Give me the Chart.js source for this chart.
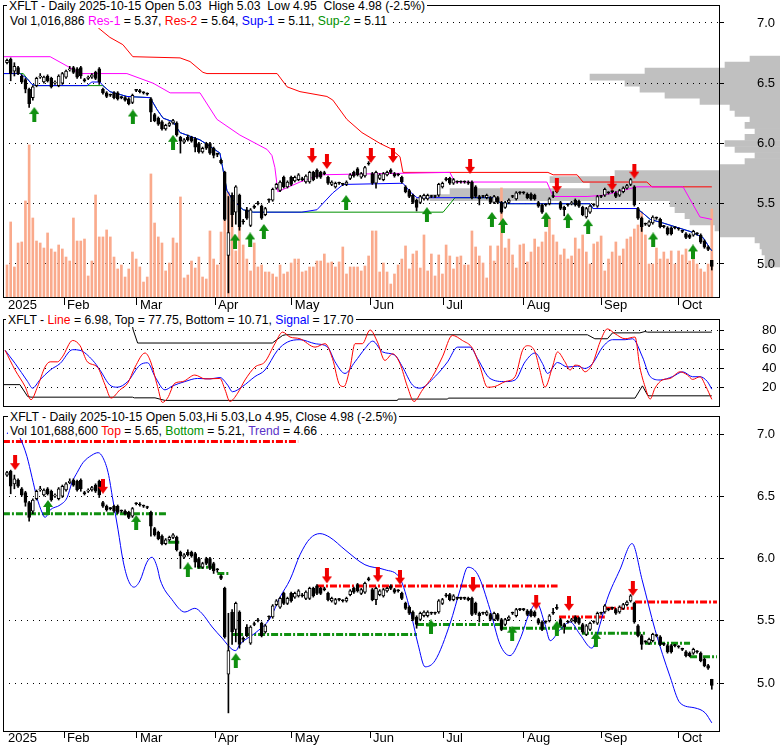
<!DOCTYPE html>
<html><head><meta charset="utf-8">
<script src="https://cdn.jsdelivr.net/npm/chart.js@4/dist/chart.umd.min.js"></script>
<style>
html,body{margin:0;padding:0;background:#fff;}
body{width:780px;height:745px;overflow:hidden;position:relative;font-family:"Liberation Sans",Arial,sans-serif;}
canvas{position:absolute;left:0;}
.hdr{position:absolute;font-size:12.2px;line-height:14px;white-space:pre;background:#fff;padding:0 2px;color:#000;z-index:5;}
</style></head><body>
<canvas id="prof" width="780" height="313" style="top:0;z-index:0"></canvas>
<canvas id="c1" width="780" height="313" style="top:0;z-index:1"></canvas>
<canvas id="c2" width="780" height="100" style="top:313px;z-index:1"></canvas>
<canvas id="c3" width="780" height="335" style="top:410px;z-index:1"></canvas>
<div class="hdr" style="left:7px;top:-1px">XFLT - Daily 2025-10-15 Open 5.03  High 5.03  Low 4.95  Close 4.98 (-2.5%)</div>
<div class="hdr" style="left:8px;top:14px">Vol 1,016,886 <span style="color:#ff00ff">Res-1</span> = 5.37, <span style="color:#ff0000">Res-2</span> = 5.64, <span style="color:#0000ff">Sup-1</span> = 5.11, <span style="color:#009000">Sup-2</span> = 5.11</div>
<div class="hdr" style="left:6px;top:313px">XFLT - <span style="color:#ff0000">Line</span> = 6.98, Top = 77.75, Bottom = 10.71, <span style="color:#0000ff">Signal</span> = 17.70</div>
<div class="hdr" style="left:8px;top:410px">XFLT - Daily 2025-10-15 Open 5.03,Hi 5.03,Lo 4.95, Close 4.98 (-2.5%)</div>
<div class="hdr" style="left:8px;top:424px">Vol 101,688,600 <span style="color:#ff0000">Top</span> = 5.65, <span style="color:#009000">Bottom</span> = 5.21, <span style="color:#5a32c8">Trend</span> = 4.66</div>
<script>
// ---------- DATA ----------
const monthLabels = ['2025','Feb','Mar','Apr','May','Jun','Jul','Aug','Sep','Oct'];
const monthStartIdx = [-0.54, 15.45, 35.2, 56.4, 77.2, 98.4, 118.2, 140.1, 161, 182.1];
const priceTicks = [5.0, 5.5, 6.0, 6.5, 7.0];
const oscTicks = [20, 40, 60, 80];

const open = [
6.67,6.70,6.60,6.63,6.56,6.53,6.45,6.38,6.48,6.55,
6.51,6.56,6.54,6.50,6.48,6.50,6.55,6.61,6.63,6.62,
6.63,6.53,6.54,6.55,6.59,6.62,6.45,6.42,6.40,6.42,
6.42,6.38,6.38,6.37,6.34,6.44,6.43,6.42,6.41,6.37,
6.24,6.21,6.18,6.12,6.15,6.17,6.17,6.05,6.01,6.05,
6.05,6.04,6.00,5.93,6.00,6.00,5.96,5.91,5.86,5.76,
5.07,5.57,5.43,5.57,5.35,5.45,5.32,5.47,5.50,5.48,
5.41,5.53,5.53,5.63,5.61,5.72,5.64,5.72,5.69,5.70,
5.70,5.68,5.68,5.76,5.78,5.76,5.75,5.72,5.66,5.64,
5.67,5.66,5.66,5.71,5.76,5.79,5.72,5.73,5.83,5.75,
5.67,5.71,5.70,5.74,5.78,5.75,5.74,5.72,5.64,5.61,
5.57,5.53,5.51,5.54,5.54,5.56,5.56,5.57,5.64,5.70,
5.71,5.67,5.68,5.68,5.68,5.68,5.68,5.64,5.56,5.56,
5.55,5.55,5.51,5.55,5.51,5.47,5.51,5.56,5.54,5.59,
5.59,5.58,5.58,5.57,5.51,5.49,5.49,5.50,5.56,5.60,
5.51,5.47,5.49,5.50,5.53,5.52,5.47,5.39,5.43,5.49,
5.48,5.56,5.57,5.59,5.60,5.59,5.57,5.60,5.63,5.66,
5.64,5.46,5.38,5.33,5.32,5.34,5.38,5.37,5.31,5.30,
5.30,5.30,5.29,5.27,5.25,5.24,5.24,5.25,5.24,5.19,
5.14,5.03];
const high = [
6.70,6.71,6.67,6.64,6.57,6.54,6.46,6.48,6.55,6.58,
6.56,6.57,6.55,6.52,6.57,6.59,6.61,6.64,6.64,6.63,
6.64,6.54,6.56,6.58,6.60,6.63,6.46,6.43,6.41,6.43,
6.43,6.39,6.39,6.38,6.41,6.45,6.45,6.43,6.42,6.38,
6.25,6.22,6.19,6.16,6.18,6.20,6.18,6.06,6.04,6.07,
6.06,6.05,6.01,5.97,6.01,6.01,5.97,5.92,5.87,5.77,
5.56,5.59,5.65,5.58,5.37,5.47,5.46,5.49,5.52,5.49,
5.47,5.54,5.63,5.67,5.69,5.73,5.69,5.73,5.73,5.75,
5.72,5.74,5.77,5.77,5.79,5.77,5.77,5.73,5.69,5.68,
5.68,5.67,5.69,5.75,5.77,5.80,5.76,5.81,5.85,5.76,
5.77,5.75,5.76,5.77,5.79,5.76,5.75,5.73,5.65,5.62,
5.58,5.54,5.57,5.58,5.58,5.57,5.57,5.67,5.68,5.72,
5.72,5.71,5.69,5.69,5.69,5.69,5.69,5.65,5.57,5.57,
5.58,5.56,5.57,5.56,5.52,5.52,5.54,5.57,5.60,5.60,
5.60,5.59,5.59,5.58,5.52,5.50,5.50,5.55,5.60,5.63,
5.52,5.48,5.50,5.52,5.54,5.53,5.48,5.47,5.49,5.50,
5.57,5.57,5.63,5.60,5.61,5.60,5.62,5.64,5.66,5.71,
5.65,5.47,5.39,5.34,5.36,5.40,5.39,5.38,5.32,5.31,
5.31,5.31,5.30,5.28,5.26,5.25,5.28,5.26,5.25,5.20,
5.15,5.03];
const low = [
6.66,6.52,6.56,6.57,6.50,6.42,6.30,6.36,6.47,6.54,
6.50,6.51,6.46,6.49,6.47,6.49,6.54,6.60,6.58,6.54,
6.54,6.51,6.53,6.54,6.53,6.49,6.41,6.38,6.39,6.37,
6.36,6.37,6.35,6.32,6.33,6.43,6.42,6.41,6.40,6.18,
6.18,6.15,6.11,6.11,6.14,6.16,6.06,5.92,6.00,6.02,
6.01,5.93,5.92,5.92,5.95,5.91,5.88,5.89,5.83,5.36,
4.76,5.31,5.33,5.28,5.33,5.37,5.31,5.46,5.49,5.37,
5.40,5.51,5.52,5.62,5.60,5.63,5.63,5.65,5.68,5.69,
5.69,5.67,5.67,5.69,5.71,5.71,5.74,5.66,5.65,5.63,
5.66,5.65,5.65,5.70,5.72,5.73,5.71,5.72,5.82,5.66,
5.63,5.70,5.69,5.73,5.75,5.72,5.73,5.67,5.59,5.55,
5.50,5.44,5.50,5.53,5.53,5.55,5.55,5.56,5.63,5.69,
5.66,5.66,5.67,5.67,5.67,5.66,5.54,5.55,5.49,5.55,
5.54,5.50,5.50,5.50,5.42,5.46,5.50,5.55,5.53,5.58,
5.58,5.54,5.53,5.53,5.47,5.42,5.48,5.49,5.55,5.59,
5.45,5.40,5.48,5.49,5.48,5.47,5.40,5.38,5.42,5.48,
5.47,5.55,5.56,5.58,5.59,5.55,5.56,5.59,5.62,5.65,
5.48,5.37,5.27,5.32,5.31,5.33,5.37,5.30,5.30,5.24,
5.24,5.29,5.28,5.26,5.21,5.21,5.23,5.24,5.17,5.13,
5.11,4.95];
const close = [
6.69,6.58,6.64,6.58,6.51,6.45,6.33,6.47,6.54,6.56,
6.55,6.52,6.47,6.51,6.56,6.58,6.60,6.62,6.59,6.55,
6.56,6.52,6.55,6.57,6.54,6.51,6.42,6.39,6.40,6.38,
6.37,6.38,6.36,6.33,6.40,6.44,6.43,6.42,6.41,6.26,
6.19,6.16,6.12,6.15,6.17,6.19,6.07,6.02,6.03,6.03,
6.02,5.97,5.93,5.96,5.96,5.92,5.90,5.91,5.84,5.37,
5.26,5.41,5.64,5.31,5.35,5.38,5.45,5.47,5.50,5.38,
5.46,5.53,5.62,5.66,5.68,5.64,5.68,5.66,5.72,5.74,
5.70,5.73,5.76,5.70,5.72,5.72,5.75,5.67,5.68,5.67,
5.67,5.66,5.68,5.74,5.73,5.74,5.75,5.80,5.83,5.67,
5.76,5.74,5.75,5.76,5.76,5.73,5.74,5.68,5.60,5.56,
5.51,5.47,5.56,5.57,5.57,5.56,5.56,5.66,5.67,5.70,
5.67,5.70,5.68,5.68,5.68,5.67,5.55,5.56,5.54,5.56,
5.57,5.51,5.56,5.51,5.43,5.51,5.53,5.56,5.59,5.59,
5.59,5.55,5.54,5.54,5.48,5.43,5.49,5.54,5.56,5.60,
5.46,5.45,5.49,5.51,5.49,5.48,5.41,5.46,5.48,5.49,
5.56,5.56,5.62,5.59,5.60,5.56,5.61,5.63,5.65,5.70,
5.49,5.38,5.31,5.33,5.35,5.39,5.38,5.31,5.31,5.25,
5.25,5.30,5.29,5.27,5.22,5.22,5.27,5.25,5.18,5.14,
5.12,4.98];
// daily volume, thousands of shares
const volume = [
370,867,347,624,636,1110,1757,913,647,624,
566,740,555,520,601,555,462,416,913,647,
647,670,243,416,1179,694,694,775,694,462,
324,370,231,324,520,439,347,173,231,1422,
855,694,624,301,393,682,624,1156,220,254,
416,335,462,231,208,763,439,370,751,890,
1214,1098,532,809,601,439,301,624,347,370,
289,289,266,231,370,266,289,393,439,439,
289,301,347,347,416,416,497,393,405,347,
405,578,266,347,347,347,301,358,474,763,
763,289,393,289,150,266,370,439,590,324,
497,532,335,717,301,497,243,486,266,601,
474,324,462,474,370,370,763,578,474,393,
220,590,416,590,1260,566,670,486,335,601,
613,405,520,670,578,636,751,902,717,636,
486,555,439,474,682,555,717,520,381,613,
636,705,301,439,520,636,474,555,670,694,
786,832,983,717,381,381,566,439,520,439,
532,381,532,486,555,416,486,381,324,289,
381,1017];
// volume at price (thousands of shares)
const profilePrice = [6.70,6.65,6.60,6.55,6.50,6.45,6.40,6.35,6.30,6.25,6.20,6.15,6.10,6.05,6.00,5.95,5.90,5.85,5.80,5.75,5.70,5.65,5.60,5.55,5.50,5.45,5.40,5.35,5.30,5.25,5.20,5.15,5.10,5.05,5.00];
const profileVolume = [960,1760,4320,6080,4960,4480,3680,2560,1600,1440,960,1120,800,1120,1760,1440,800,1120,1920,5280,7360,6080,10560,11200,3520,3360,3040,2880,2080,1920,800,640,576,480,480];

// [day index, price]
const res1 = [[-1.1,6.72],[11.7,6.72],[17,6.63],[19.8,6.58],[32.5,6.58],[39.6,6.50],[44.2,6.42],[52.3,6.42],[56.9,6.20],[63.1,6.07],[70.5,5.95],[71.8,5.90],[72.6,5.80],[73.4,5.60],[79.4,5.68],[84.8,5.74],[120,5.76],[121.4,5.68],[146.3,5.68],[148,5.56],[157.2,5.56],[161.5,5.57],[166.9,5.61],[170.7,5.64],[183.2,5.64],[187.8,5.39],[191,5.37]];
const res2 = [[23.5,7.05],[24.7,6.96],[27.9,6.88],[31.4,6.82],[34.1,6.72],[46.9,6.71],[49.6,6.68],[53.1,6.59],[54.2,6.58],[73.2,6.58],[75.9,6.47],[79.4,6.43],[86.7,6.39],[88.3,6.36],[92.1,6.20],[96.2,6.09],[101.1,6.00],[103.8,5.96],[106.5,5.89],[107.3,5.76],[146.6,5.76],[148,5.74],[154.5,5.74],[156.1,5.68],[173.4,5.68],[174.8,5.64],[191,5.64]];
const sup1 = [[-1.1,6.58],[3.5,6.58],[5.4,6.54],[6.8,6.49],[7.9,6.48],[21.7,6.48],[23,6.51],[25.2,6.51],[26,6.48],[27.9,6.43],[32.5,6.39],[38.8,6.38],[40.7,6.28],[42.3,6.21],[45,6.18],[46.9,6.09],[52.3,6.03],[55.8,5.96],[57.7,5.92],[59.6,5.61],[61.2,5.53],[64,5.45],[66.7,5.43],[79.9,5.43],[84,5.45],[88.3,5.59],[91.1,5.66],[107.3,5.67],[109.2,5.60],[111.1,5.55],[131.7,5.55],[133.6,5.51],[135.5,5.50],[158,5.50],[158.8,5.46],[170.7,5.46],[172.4,5.42],[174.3,5.37],[177.8,5.34],[185.1,5.27],[188.6,5.22],[190.5,5.13],[191,5.11]];
const sup2 = [[-1.1,6.58],[4.4,6.58],[5.4,6.54],[6.8,6.49],[7.9,6.48],[26,6.48],[27.9,6.43],[32.5,6.39],[38.8,6.38],[40.7,6.28],[42.3,6.21],[45,6.18],[46.9,6.09],[52.3,6.03],[55.8,5.96],[57.7,5.92],[59.6,5.61],[61.2,5.53],[64,5.45],[66.7,5.43],[118.2,5.43],[121.4,5.55],[131.7,5.55],[133.6,5.51],[135.5,5.50],[158,5.50],[158.8,5.46],[170.7,5.46],[172.4,5.42],[174.3,5.37],[177.8,5.34],[185.1,5.27],[188.6,5.22],[190.5,5.13],[191,5.11]];
const buySignals1 = [[7.4,6.24],[34.1,6.22],[45,6.01],[61.8,5.19],[65.9,5.20],[69.6,5.27],[91.9,5.51],[113.8,5.41],[131.4,5.37],[134.4,5.32],[146.1,5.37],[152,5.36],[157.5,5.31],[175.1,5.20],[185.9,5.10]];
const sellSignals1 = [[82.7,5.90],[86.7,5.85],[98.6,5.90],[104.6,5.90],[125.5,5.81],[149,5.65],[164,5.67],[170,5.77]];

// oscillator [day index, value]
const oscLine = [[-0.5,58.6],[2.2,37.8],[4.9,20.5],[6.5,6.6],[8.3,20.5],[10.3,41],[11.7,46.5],[13.7,46.5],[15,51.7],[17.8,69],[19.8,63.5],[21.8,46.4],[24.5,41],[26.6,22],[28.2,8.3],[30.6,17],[32.7,24],[34.7,41],[37.4,55.8],[38.8,48],[40.8,20.5],[42.1,3.8],[43.5,8.3],[45.5,24],[47.6,25.7],[50.9,32.6],[53.7,28.5],[57.7,29],[59.1,17],[60.4,4.8],[62.5,13.5],[64.5,27.4],[67.2,41],[69.9,46.5],[72.6,65.6],[74.7,77.8],[76.7,72.6],[79.4,70.8],[83.5,62],[86.2,65.6],[88.2,50],[90.2,22],[91.3,20.5],[93,41],[94.3,65.6],[96.3,65.6],[98.4,80],[100.4,67.3],[102.4,48],[104.5,55],[106.5,44.6],[108.5,20.5],[110.3,4.8],[112.6,17],[115.3,31],[118,51.7],[120.7,74.3],[123.4,69],[126.2,60.4],[128.2,41],[130.2,19.8],[132.2,20.5],[135,25.7],[137.7,31],[139.7,58.6],[141.1,63.5],[143.1,56.9],[144.4,37.8],[145.8,19.8],[147.8,41],[149.2,56.9],[151.2,46.5],[152.6,37.8],[153.9,43],[155.3,42],[156.6,36],[158.7,44.8],[160.7,67.3],[162.7,81.2],[164.8,76],[167.5,70.8],[170.2,72.6],[171.5,41],[172.9,20.5],[174.3,7.3],[175.6,18.8],[177.6,27.4],[179.7,29],[182.4,36],[184.4,32.6],[185.8,28],[187.8,30.8],[189.4,20.5],[191,6.98]];
const oscSignal = [[-0.5,58.6],[2.2,44.8],[5.6,25.7],[6.9,18.8],[8.9,27.4],[11.7,37.8],[14.4,44.8],[17.8,59.3],[19.8,58.6],[23.2,48.2],[25.2,37.8],[27.9,22],[29.9,19.8],[32.7,25.7],[36,43],[38.1,45.5],[40.1,31],[42.8,17],[44.9,21.2],[48.2,25.7],[51.6,29],[55,28.5],[57.7,30],[59.8,22],[61.1,15],[63.8,20.5],[67.2,31],[69.9,37.8],[73.3,58.6],[76,67.3],[79.4,69.8],[83.5,65.6],[86.9,62],[88.9,46.5],[91.6,34.3],[94.3,46.5],[97,60.4],[99.1,68.3],[101.8,56.9],[105.1,53.5],[107.2,41],[109.9,22],[111.9,18.8],[116,31],[119.4,46.5],[122.1,62],[125.5,62],[127.5,50],[130.9,29],[135,25.7],[137.7,27.4],[140.4,46.5],[143.1,55.8],[145.1,44.8],[146.5,34.3],[149.2,45.8],[151.9,41],[154.6,42],[156.6,39.5],[158.7,44.8],[161.4,62],[164.1,69.8],[167.5,69.8],[169.5,70.8],[172.2,51.7],[174.3,31],[177,27.4],[180.4,31],[183.1,36],[185.8,30.8],[187.8,30.8],[189.8,25.7],[191,17.7]];
const oscTop = [[33.6,92],[34.2,80],[35.4,66.3],[71.9,66.3],[74.7,74.3],[75.5,75],[157.3,75],[159.3,70.8],[162.7,70.8],[164.1,77],[171.5,77],[172.9,78.4],[173.6,77.75],[191,77.75]];
const oscBottom = [[-1.1,22.5],[3.5,22.5],[5.6,10],[6.5,9.3],[34,9.3],[34.5,8.6],[40.1,8.6],[42.8,5.9],[105.8,5.9],[106,7.3],[119.4,7.3],[119.6,8.3],[170.2,8.3],[172.2,21.2],[173.6,11.4],[174,10.71],[191,10.71]];

// lower panel
const trend = [[0,7.0],[1.5,7.05],[3.5,6.97],[5.4,6.82],[6.8,6.65],[8.1,6.49],[9.5,6.37],[10.3,6.33],[11.7,6.39],[14.4,6.43],[16.3,6.49],[17.6,6.61],[19,6.69],[20.6,6.77],[23,6.83],[24.7,6.85],[26,6.81],[27.4,6.69],[28.7,6.47],[30.1,6.23],[31.4,5.99],[32.8,5.83],[34.4,5.77],[36,5.82],[37.9,5.97],[39.3,6.01],[40.7,5.93],[41.5,5.83],[44.7,5.67],[48.2,5.57],[50.9,5.60],[52.8,5.56],[55.6,5.45],[58.3,5.36],[61,5.27],[62,5.26],[63.1,5.31],[67.2,5.40],[71.3,5.52],[74,5.69],[76.7,5.83],[79.4,6.03],[82.1,6.16],[84.8,6.20],[87.5,6.17],[91.6,6.07],[97,5.95],[102.4,5.91],[106.5,5.84],[109.2,5.59],[111.4,5.31],[113.3,5.13],[116,5.18],[120.1,5.48],[122.8,5.75],[124.9,5.93],[127.6,5.87],[130.9,5.59],[133.6,5.31],[136.3,5.22],[139,5.35],[141.7,5.57],[143.6,5.64],[145.8,5.47],[147.2,5.34],[149.9,5.43],[152.6,5.49],[155.3,5.39],[158.5,5.28],[160.7,5.47],[162.6,5.67],[166.1,5.91],[169.4,6.12],[172.1,5.83],[175.6,5.43],[179.7,5.05],[182.4,4.84],[186.4,4.80],[189.2,4.76],[191,4.68]];
// [start index, end index, price]
const topLevels = [[-1.1,78.9,6.94],[84,149.2,5.78],[149.6,162,5.53],[162,170.2,5.60],[170.2,192.4,5.65]];
const bottomLevels = [[-1.1,43.5,6.36],[43.7,46.9,6.13],[51.5,55.8,5.93],[57,60.4,5.88],[61,111.1,5.39],[111.1,133.6,5.47],[133.6,155.8,5.44],[155.8,172.9,5.40],[172.9,185.1,5.32],[185.1,192.4,5.21]];
const buySignals3 = [[11.1,6.41],[35,6.29],[49,5.91],[62,5.18],[114.9,5.45],[136.9,5.40],[149,5.44],[159.6,5.35]];
const sellSignals3 = [[2.2,6.77],[26,6.58],[86.7,5.86],[100.5,5.87],[106.5,5.85],[126.3,5.79],[143.4,5.65],[152.3,5.64],[169.6,5.76]];

// ---------- RENDER ----------
const FONT = '"Liberation Sans", Arial, sans-serif';
const xMin = -1.084, xMax = 192.95;
const days = close.map((c, i) => i);

function pts(a) { return a.map(p => ({x: p[0], y: p[1]})); }
function segs(a) { const o = []; a.forEach(s => { o.push({x: s[0], y: s[2]}, {x: s[1], y: s[2]}, {x: s[1], y: null}); }); return o; }

function arrowCanvas(up, color) {
  const c = document.createElement('canvas'); c.width = 10; c.height = 15;
  const g = c.getContext('2d'); g.fillStyle = color;
  g.save();
  if (!up) { g.translate(0, 15); g.scale(1, -1); }
  g.beginPath(); g.moveTo(5, 0); g.lineTo(10, 7); g.lineTo(0, 7); g.closePath(); g.fill();
  g.fillRect(3, 7, 4, 8);
  g.restore();
  return c;
}
const upArrow = arrowCanvas(true, '#109010');
const downArrow = arrowCanvas(false, '#f00000');

const framePlugin = { id: 'frame', afterDraw(chart) {
  const a = chart.chartArea, ctx = chart.ctx; ctx.save();
  ctx.strokeStyle = '#000'; ctx.lineWidth = 1;
  ctx.strokeRect(Math.round(a.left) + 0.5, Math.round(a.top) + 0.5, Math.round(a.right - a.left), Math.round(a.bottom - a.top));
  ctx.restore(); } };

function noPad(s) { s.paddingTop = 0; s.paddingBottom = 0; s.paddingLeft = 0; s.paddingRight = 0; }
function yAxisRight(min, max, ticks, fmt, pad) {
  return { type: 'linear', position: 'right', min, max,
    afterBuildTicks: s => { s.ticks = ticks.map(v => ({value: v})); },
    afterFit: s => { s.width = 61; noPad(s); },
    ticks: { callback: fmt, font: {family: FONT, size: 13}, color: '#000', padding: pad },
    grid: { color: '#000', lineWidth: 1, drawTicks: true, tickLength: 5, tickColor: '#000' },
    border: { display: false, dash: [1, 5] } };
}
function dateAxis(h, tl, pad) {
  return { type: 'linear', position: 'bottom', min: xMin, max: xMax, offset: false,
    afterBuildTicks: s => { s.ticks = monthStartIdx.map(v => ({value: v})); },
    afterFit: s => { s.height = h; noPad(s); },
    ticks: { autoSkip: false, maxRotation: 0, minRotation: 0, align: 'start', labelOffset: 3, padding: pad,
      font: {family: FONT, size: 13}, color: '#000', callback: (v, i) => monthLabels[i] },
    grid: { offset: false, drawOnChartArea: false, drawTicks: true, tickLength: tl, tickWidth: 1,
      tickColor: c => c.index === 0 ? 'rgba(0,0,0,0)' : '#000', color: 'rgba(0,0,0,0)' },
    border: { display: false } };
}
function line(data, color, order, extra) {
  return Object.assign({ type: 'line', data, borderColor: color, borderWidth: 1, pointRadius: 0, tension: 0,
    fill: false, spanGaps: false, order, yAxisID: 'y' }, extra || {});
}
function candleSets(yId) {
  return [
    { type: 'bar', data: days.map(i => ({x: i, y: [low[i], high[i]]})), backgroundColor: '#000',
      barThickness: 1, grouped: false, order: 5, yAxisID: yId, minBarLength: 1 },
    { type: 'bar', data: days.map(i => ({x: i, y: [open[i], close[i]]})),
      backgroundColor: days.map(i => close[i] > open[i] ? '#fff' : '#000'), borderColor: '#000', borderWidth: 1,
      borderSkipped: false, barThickness: 3, grouped: false, order: 4, yAxisID: yId, minBarLength: 1 }
  ];
}
function arrowSet(data, img, yId) {
  return { type: 'line', data: pts(data), showLine: false, pointStyle: img, pointRadius: 8, order: 1, yAxisID: yId, clip: false };
}
const base = { responsive: false, animation: false, events: [], devicePixelRatio: 1,
  plugins: { legend: {display: false}, tooltip: {enabled: false}, title: {display: false} } };

const p1min = 4.726, p1max = 7.149;
const p3min = 4.6145, p3max = 7.1446;

// volume-at-price profile (behind panel 1)
new Chart(document.getElementById('prof'), {
  type: 'bar',
  data: { datasets: [{ data: profilePrice.map((p, i) => ({x: profileVolume[i], y: p})), backgroundColor: '#c0c0c0',
    barPercentage: 1, categoryPercentage: 1, borderWidth: 0 }] },
  options: Object.assign({}, base, { indexAxis: 'y', layout: { autoPadding: false, padding: {left: 0, right: 0, top: 5, bottom: 16} },
    scales: { x: { type: 'linear', display: false, reverse: true, min: 0, max: 24960, offset: false },
              y: { type: 'linear', display: false, min: p1min, max: p1max, offset: false } } })
});

// panel 1
new Chart(document.getElementById('c1'), {
  type: 'bar',
  data: { datasets: [
    { type: 'bar', data: days.map(i => ({x: i, y: volume[i]})), backgroundColor: '#faaa8c', barThickness: 2,
      grouped: false, order: 10, yAxisID: 'yv', borderWidth: 0 },
    line(pts(res2), '#ff0000', 9),
    line(pts(res1), '#ff00ff', 8),
    line(pts(sup2), '#009000', 7),
    line(pts(sup1), '#0000ff', 6),
    ...candleSets('y'),
    arrowSet(buySignals1, upArrow, 'y'),
    arrowSet(sellSignals1, downArrow, 'y')
  ] },
  options: Object.assign({}, base, { layout: { autoPadding: false, padding: {left: 3, right: 0, top: 5, bottom: 0} },
    scales: { x: dateAxis(16, 8, -7), y: yAxisRight(p1min, p1max, priceTicks, v => v.toFixed(1), 33),
      yv: { type: 'linear', display: false, min: 0, max: 3374 } } }),
  plugins: [framePlugin]
});

// panel 2
new Chart(document.getElementById('c2'), {
  type: 'line',
  data: { datasets: [
    line(pts(oscTop), '#000', 4),
    line(pts(oscBottom), '#000', 3),
    line(pts(oscSignal), '#0000ff', 2, { cubicInterpolationMode: 'monotone' }),
    line(pts(oscLine), '#ff0000', 1, { cubicInterpolationMode: 'monotone' })
  ] },
  options: Object.assign({}, base, { layout: { autoPadding: false, padding: {left: 3, right: 0, top: 6, bottom: 7} },
    scales: { x: { type: 'linear', display: false, min: xMin, max: xMax, offset: false },
      y: yAxisRight(0, 91.6, oscTicks, v => String(v), 38) } }),
  plugins: [framePlugin]
});

// panel 3
new Chart(document.getElementById('c3'), {
  type: 'bar',
  data: { datasets: [
    line(segs(topLevels), '#ff0000', 9, { borderWidth: 3, borderDash: [7, 2, 2, 2] }),
    line(segs(bottomLevels), '#109010', 8, { borderWidth: 3, borderDash: [7, 2, 2, 2] }),
    line(pts(trend), '#0000ff', 7, { cubicInterpolationMode: 'monotone' }),
    ...candleSets('y'),
    arrowSet(buySignals3, upArrow, 'y'),
    arrowSet(sellSignals3, downArrow, 'y')
  ] },
  options: Object.assign({}, base, { layout: { autoPadding: false, padding: {left: 3, right: 0, top: 6, bottom: 0} },
    scales: { x: dateAxis(14, 7, -7), y: yAxisRight(p3min, p3max, priceTicks, v => v.toFixed(1), 33) } }),
  plugins: [framePlugin]
});
</script>
</body></html>
